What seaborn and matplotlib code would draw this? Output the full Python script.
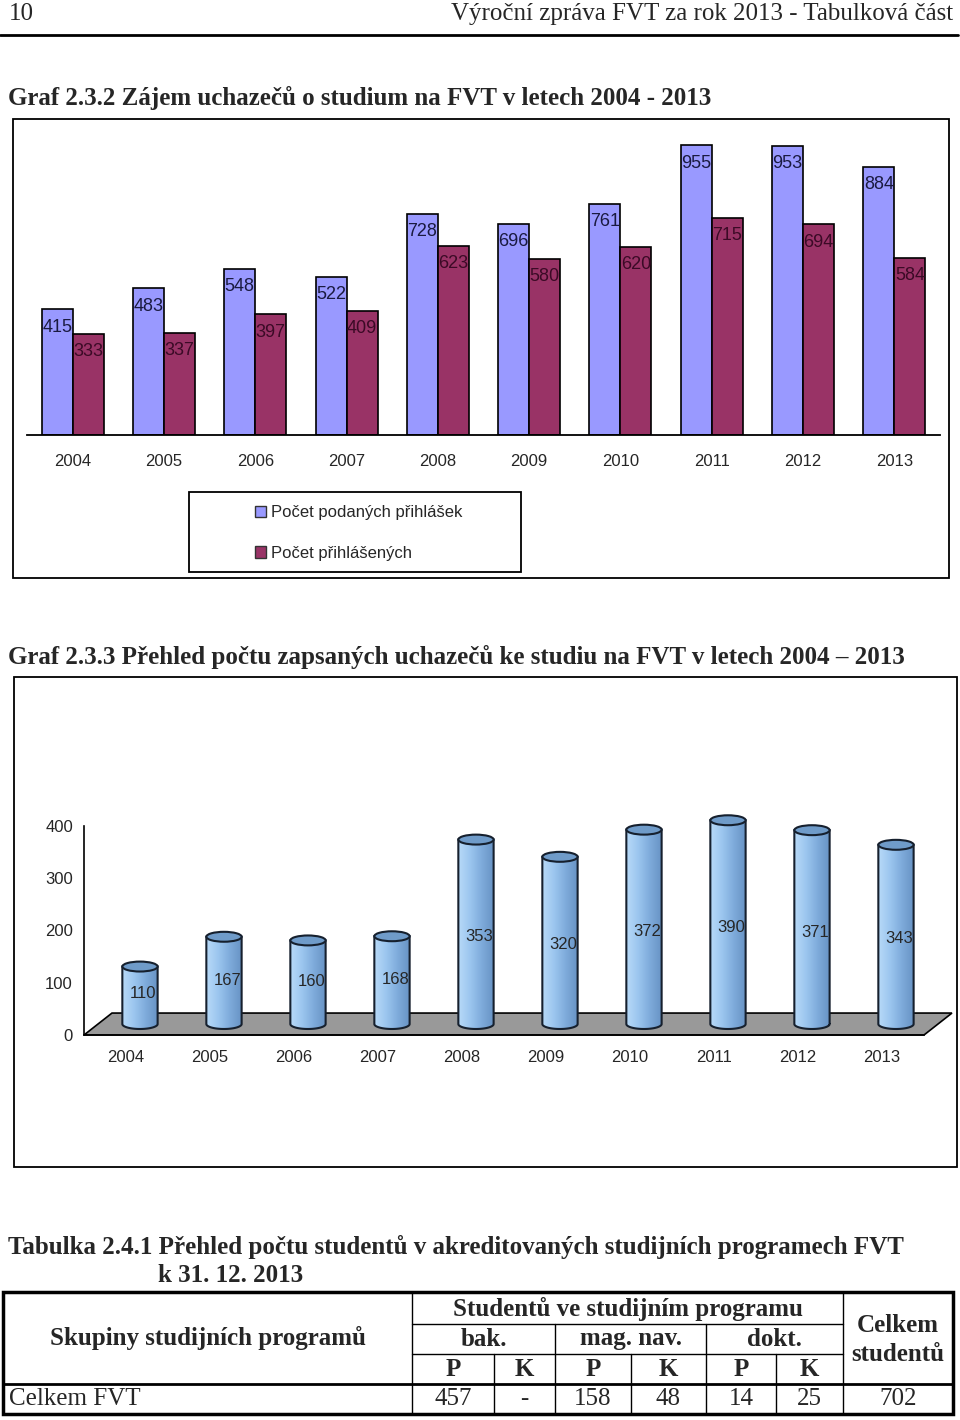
import matplotlib
matplotlib.use("Agg")
import matplotlib.pyplot as plt
import numpy as np
import pandas as pd
import seaborn as sns
from matplotlib.colors import LinearSegmentedColormap
from matplotlib.patches import Ellipse, Patch, Polygon, Rectangle

# --- data -------------------------------------------------------------
years = ["2004", "2005", "2006", "2007", "2008",
         "2009", "2010", "2011", "2012", "2013"]
podane_prihlasky = [415, 483, 548, 522, 728, 696, 761, 955, 953, 884]
prihlaseni = [333, 337, 397, 409, 623, 580, 620, 715, 694, 584]
series_names = ["Počet podaných přihlášek", "Počet přihlášených"]

zapsani = [110, 167, 160, 168, 353, 320, 372, 390, 371, 343]
y_ticks2 = [0, 100, 200, 300, 400]

table_groups = ["bak.", "mag. nav.", "dokt."]
table_sub = ["P", "K", "P", "K", "P", "K"]
table_row = "Celkem FVT"
table_values = ["457", "-", "158", "48", "14", "25"]
table_total = "702"

header_left = "10"
header_right = "Výroční zpráva FVT za rok 2013 - Tabulková část"
title1 = "Graf 2.3.2 Zájem uchazečů o studium na FVT v letech 2004 - 2013"
title2 = ("Graf 2.3.3 Přehled počtu zapsaných uchazečů ke studiu na FVT "
          "v letech 2004 \u2013 2013")
title3 = ("Tabulka 2.4.1 Přehled počtu studentů v akreditovaných studijních "
          "programech FVT")
title3b = "k 31. 12. 2013"

# --- page setup -------------------------------------------------------
W, H = 960, 1420
SERIF = ["Liberation Serif", "DejaVu Serif"]
PAGE_FS = 18

sns.set_style("white")
plt.rcParams["font.family"] = ["Liberation Sans", "DejaVu Sans"]

fig = plt.figure(figsize=(W / 100, H / 100), dpi=100)
page = fig.add_axes([0, 0, 1, 1])
page.set_xlim(0, W)
page.set_ylim(H, 0)
page.axis("off")


def ax_rect(x0, y0, x1, y1):
    """Pixel box (top-left origin) -> figure fraction rect."""
    return [x0 / W, 1 - y1 / H, (x1 - x0) / W, (y1 - y0) / H]


def box(x, y, w, h, lw=1.3):
    page.add_patch(Rectangle((x, y), w, h, fill=False, ec="black", lw=lw))


# header
page.text(9, 14, header_left, family=SERIF, fontsize=PAGE_FS, va="center")
page.text(953, 14, header_right, family=SERIF, fontsize=PAGE_FS,
          va="center", ha="right")
page.plot([0, 958], [35, 35], color="black", lw=2)

# --- chart 1: grouped bars ---------------------------------------------
page.text(8, 98, title1, family=SERIF, fontsize=PAGE_FS, weight="bold",
          va="center")
box(13, 119, 936, 459)

ax1 = fig.add_axes(ax_rect(27, 131.4, 940, 435))
ax1.set_facecolor("none")
df1 = pd.DataFrame({
    "rok": years * 2,
    "pocet": podane_prihlasky + prihlaseni,
    "serie": [series_names[0]] * len(years) + [series_names[1]] * len(years),
})
colors1 = ["#9999FF", "#993366"]
sns.barplot(data=df1, x="rok", y="pocet", hue="serie", palette=colors1,
            width=0.68, saturation=1, errorbar=None, edgecolor="black",
            linewidth=1.2, legend=False, ax=ax1)

label_colors = ["#1a1a40", "#3b0a26"]
for cont, vals, lc in zip(ax1.containers, [podane_prihlasky, prihlaseni],
                          label_colors):
    for bar, v in zip(cont, vals):
        ax1.annotate(f"{v}", (bar.get_x() + bar.get_width() / 2, v),
                     xytext=(0, -18), textcoords="offset pixels",
                     ha="center", va="center", fontsize=13, color=lc)

ax1.set_xlim(-0.5, len(years) - 0.5)
ax1.set_ylim(0, 1000)
ax1.set_xlabel("")
ax1.set_ylabel("")
ax1.set_yticks([])
ax1.set_xticks(np.arange(-0.5, len(years), 1), minor=True)
ax1.tick_params(axis="x", which="major", length=0, pad=14, labelsize=12)
ax1.tick_params(axis="x", which="minor", length=5, width=1,
                direction="out", color="black")
for s in ["top", "left", "right"]:
    ax1.spines[s].set_visible(False)
ax1.spines["bottom"].set_color("black")
ax1.spines["bottom"].set_linewidth(1.3)

handles = [Patch(facecolor=c, edgecolor="#333333", lw=1) for c in colors1]
ax1.legend(handles, series_names, loc="upper left",
           bbox_to_anchor=(255 / W, 1 - 505 / H),
           bbox_transform=fig.transFigure, frameon=False, fontsize=12,
           handlelength=0.65, handleheight=0.65, handletextpad=0.3,
           labelspacing=1.55, borderpad=0, borderaxespad=0)
box(189, 492, 332, 80)

# --- chart 2: 3D-looking cylinders ----------------------------------------
page.text(8, 657, title2, family=SERIF, fontsize=PAGE_FS, weight="bold",
          va="center")
box(14, 677, 943, 490)

ax2 = fig.add_axes(ax_rect(84, 1035 - 440 * 0.5225, 924, 1035))
ax2.set_facecolor("none")
sns.barplot(x=years, y=zapsani, color="#8dbbe8", width=0.42, saturation=1,
            errorbar=None, ax=ax2)

depth_x, depth_y = 0.333, 42.0     # floor depth in data units
edge = "#16202e"
cap_h = 19.0
cyl_cmap = LinearSegmentedColormap.from_list(
    "cyl", ["#b8daf8", "#9cc6ef", "#7eabdb", "#6893c4"])
grad = np.linspace(0, 1, 64).reshape(1, -1)

floor = Polygon([(-0.5, 0), (len(years) - 0.5, 0),
                 (len(years) - 0.5 + depth_x, depth_y), (-0.5 + depth_x, depth_y)],
                closed=True, fc="#999999", ec="black", lw=1.2, zorder=1,
                clip_on=False)
ax2.add_patch(floor)

for bar, v in zip(ax2.patches[:len(zapsani)], zapsani):
    w = bar.get_width()
    x0 = bar.get_x() + depth_x / 2
    x1 = x0 + w
    cx = x0 + w / 2
    base = depth_y / 2
    top = base + bar.get_height()
    bar.set_visible(False)
    t = np.linspace(np.pi, 2 * np.pi, 40)
    arc = np.column_stack([cx + w / 2 * np.cos(t), base + cap_h / 2 * np.sin(t)])
    pts = np.vstack([[[x0, top], [x0, base]], arc, [[x1, base], [x1, top]]])
    body = Polygon(pts, closed=True, fc="none", ec=edge, lw=1.5, zorder=3,
                   clip_on=False)
    ax2.add_patch(body)
    im = ax2.imshow(grad, extent=(x0, x1, base - cap_h / 2, top),
                    aspect="auto", cmap=cyl_cmap, zorder=2, origin="lower")
    im.set_clip_path(body)
    ax2.add_patch(Ellipse((cx, top), w, cap_h, fc="#6f9bc9", ec=edge,
                          lw=1.5, zorder=4, clip_on=False))
    ax2.text(cx + 0.04, 0.45 * v + 30, f"{v}", ha="center", va="center",
             fontsize=12, zorder=5)

ax2.set_xlim(-0.5, len(years) - 0.5)
ax2.set_ylim(0, 440)
ax2.set_xlabel("")
ax2.set_ylabel("")
ax2.set_yticks(y_ticks2)
ax2.set_xticks(range(len(years)))
ax2.set_xticklabels(years)
ax2.set_xticks(np.arange(-0.5, len(years), 1), minor=True)
ax2.tick_params(axis="x", which="major", length=0, pad=11, labelsize=12)
ax2.tick_params(axis="x", which="minor", length=5, width=1,
                direction="out", color="black")
ax2.tick_params(axis="y", length=5, width=1, direction="out",
                color="black", labelsize=12, pad=3)
for s in ["top", "right"]:
    ax2.spines[s].set_visible(False)
ax2.spines["left"].set_bounds(0, 400)
for s in ["left", "bottom"]:
    ax2.spines[s].set_color("black")
    ax2.spines[s].set_linewidth(1.2)

# --- table ---------------------------------------------------------------
page.text(8, 1247, title3, family=SERIF, fontsize=PAGE_FS, weight="bold",
          va="center")
page.text(158, 1275, title3b, family=SERIF, fontsize=PAGE_FS, weight="bold",
          va="center")

top_y, r1, r2, r3, bot_y = 1292, 1324, 1354, 1384, 1414
left_x, c0, c4, right_x = 3, 412, 843, 953
group_edges = [412, 555, 706, 843]
sub_edges = [412, 494, 555, 631, 706, 776, 843]

page.add_patch(Rectangle((left_x, top_y), right_x - left_x, bot_y - top_y,
                         fill=False, ec="black", lw=2.5))
line_kw = dict(color="black", lw=1)
for x in [c0, c4]:
    page.plot([x, x], [top_y, bot_y], **line_kw)
for x in group_edges[1:-1]:
    page.plot([x, x], [r1, bot_y], **line_kw)
for x in [sub_edges[1], sub_edges[3], sub_edges[5]]:
    page.plot([x, x], [r2, bot_y], **line_kw)
page.plot([c0, c4], [r1, r1], **line_kw)
page.plot([c0, c4], [r2, r2], **line_kw)
page.plot([left_x, right_x], [r3, r3], color="black", lw=2)

hdr = dict(family=SERIF, fontsize=PAGE_FS, weight="bold", ha="center",
           va="center")
page.text((c0 + c4) / 2, (top_y + r1) / 2 + 1, "Studentů ve studijním programu", **hdr)
page.text((left_x + c0) / 2, (top_y + r3) / 2, "Skupiny studijních programů", **hdr)
page.text((c4 + right_x) / 2, (top_y + r3) / 2 + 2, "Celkem\nstudentů",
          linespacing=1.3, **hdr)
for i, g in enumerate(table_groups):
    page.text((group_edges[i] + group_edges[i + 1]) / 2, (r1 + r2) / 2, g, **hdr)
for i, s in enumerate(table_sub):
    page.text((sub_edges[i] + sub_edges[i + 1]) / 2, (r2 + r3) / 2, s, **hdr)

cell = dict(family=SERIF, fontsize=PAGE_FS, ha="center", va="center")
page.text(9, (r3 + bot_y) / 2, table_row, family=SERIF, fontsize=PAGE_FS,
          va="center")
for i, val in enumerate(table_values):
    page.text((sub_edges[i] + sub_edges[i + 1]) / 2, (r3 + bot_y) / 2, val, **cell)
page.text((c4 + right_x) / 2, (r3 + bot_y) / 2, table_total, **cell)

fig.savefig("out.png", dpi=100)
plt.close(fig)
